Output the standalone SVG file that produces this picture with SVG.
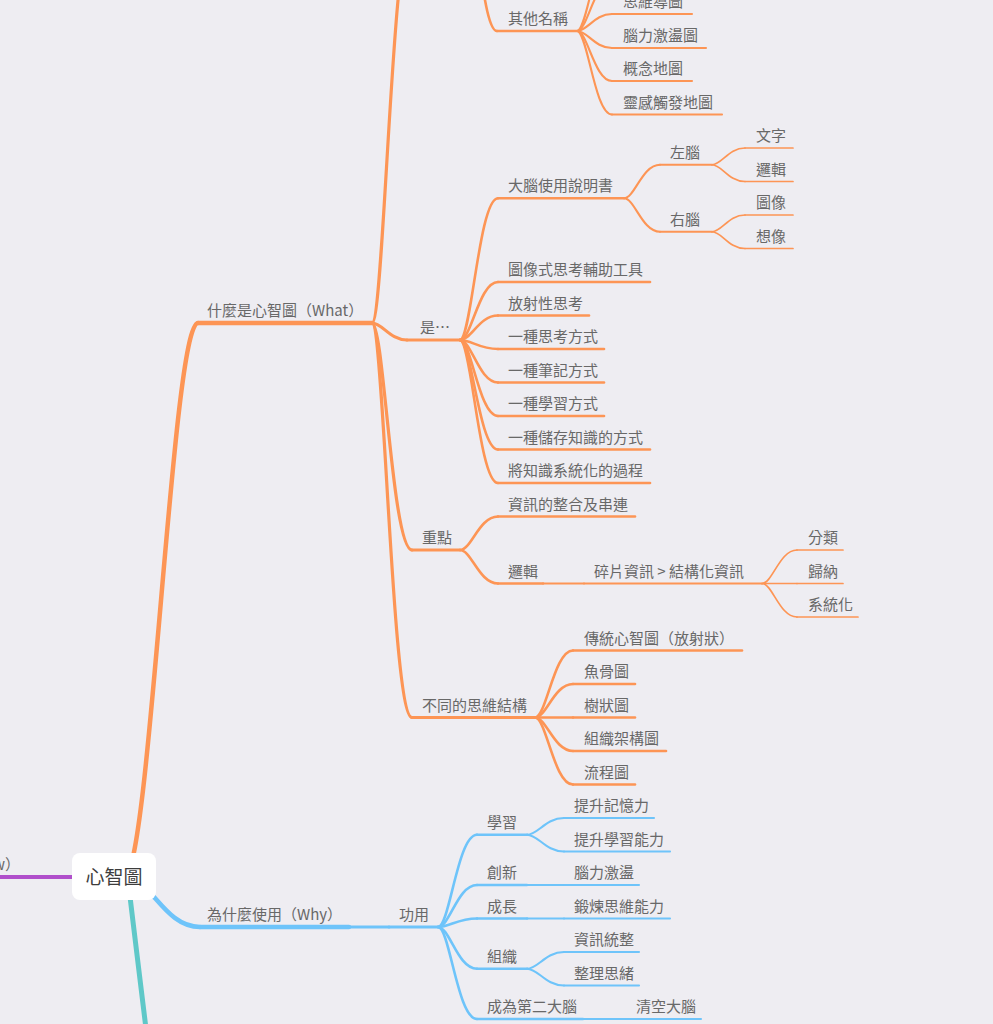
<svg xmlns="http://www.w3.org/2000/svg" width="993" height="1024" viewBox="0 0 993 1024">
<style>
.t{font-family:"Noto Sans CJK TC","Noto Sans",sans-serif;font-size:15px;fill:#686868}
.r{font-family:"Noto Sans CJK TC","Noto Sans",sans-serif;font-size:19px;fill:#3d3d3d}
.c{fill:none;stroke-linecap:round}
.o{stroke:#FD9555}
.b{stroke:#6EC4FA}
.w1{stroke-width:4.5}
.w2{stroke-width:3.2}
.w3{stroke-width:2.6}
.w4{stroke-width:2.1}
.w5{stroke-width:1.7}
</style>
<rect x="0" y="0" width="993" height="1024" fill="#EEEDF2"/>
<g id="connectors">
<path class="c" stroke="#5FC8C8" stroke-width="5" d="M128,880 Q192.8,1420 200,1420"/>
<path class="c" stroke="#B04FCB" stroke-width="4" d="M100,877 L-5,877"/>
<path class="c o w1" d="M124,878 C150,878 172,323 198,323"/>
<path class="c b w1" d="M130,880 C151,880 165,927 200,927"/>
<path class="c o w2" d="M372,323 C384,323 392,-71.5 412,-71.5"/>
<path class="c o w2" d="M372,323 C382.5,323 389.5,340 407,340"/>
<path class="c o w2" d="M372,323 C384,323 392,550 412,550"/>
<path class="c o w2" d="M372,323 C384,323 392,717.5 412,717.5"/>
<path class="c o w3" d="M470,-71.5 C478.1,-71.5 483.5,31 497,31"/>
<path class="c o w4" d="M577,31 C587.5,31 594.5,-53 612,-53"/>
<path class="c o w4" d="M577,31 C587.5,31 594.5,-19.5 612,-19.5"/>
<path class="c o w4" d="M577,31 C587.5,31 594.5,14 612,14"/>
<path class="c o w4" d="M577,31 C587.5,31 594.5,48 612,48"/>
<path class="c o w4" d="M577,31 C587.5,31 594.5,81 612,81"/>
<path class="c o w4" d="M577,31 C587.5,31 594.5,114.5 612,114.5"/>
<path class="c o w3" d="M460,340 C471.4,340 479,198.25 498,198.25"/>
<path class="c o w3" d="M460,340 C471.4,340 479,282 498,282"/>
<path class="c o w3" d="M460,340 C471.4,340 479,315.5 498,315.5"/>
<path class="c o w3" d="M460,340 C471.4,340 479,349 498,349"/>
<path class="c o w3" d="M460,340 C471.4,340 479,382.5 498,382.5"/>
<path class="c o w3" d="M460,340 C471.4,340 479,416 498,416"/>
<path class="c o w3" d="M460,340 C471.4,340 479,449.5 498,449.5"/>
<path class="c o w3" d="M460,340 C471.4,340 479,483 498,483"/>
<path class="c o w4" d="M624,198.25 C634.8,198.25 642,164.75 660,164.75"/>
<path class="c o w4" d="M624,198.25 C634.8,198.25 642,231.75 660,231.75"/>
<path class="c o w5" d="M712,164.75 C721.9,164.75 728.5,148 745,148"/>
<path class="c o w5" d="M712,164.75 C721.9,164.75 728.5,181.5 745,181.5"/>
<path class="c o w5" d="M712,231.75 C721.9,231.75 728.5,215 745,215"/>
<path class="c o w5" d="M712,231.75 C721.9,231.75 728.5,248.5 745,248.5"/>
<path class="c o w3" d="M460,550 C471.4,550 479,516.5 498,516.5"/>
<path class="c o w3" d="M460,550 C471.4,550 479,583.5 498,583.5"/>
<path class="c o w4" d="M543,583.5 L584,583.5"/>
<path class="c o w5" d="M762,583.5 C772.5,583.5 779.5,550 797,550"/>
<path class="c o w5" d="M762,583.5 L797,583.5"/>
<path class="c o w5" d="M762,583.5 C772.5,583.5 779.5,617 797,617"/>
<path class="c o w3" d="M535,717.5 C546.4,717.5 554,650.5 573,650.5"/>
<path class="c o w3" d="M535,717.5 C546.4,717.5 554,684 573,684"/>
<path class="c o w3" d="M535,717.5 L573,717.5"/>
<path class="c o w3" d="M535,717.5 C546.4,717.5 554,751 573,751"/>
<path class="c o w3" d="M535,717.5 C546.4,717.5 554,784.5 573,784.5"/>
<path class="c b w2" d="M349,927 L389,927"/>
<path class="c b w3" d="M438,927 C449.7,927 457.5,834.75 477,834.75"/>
<path class="c b w3" d="M438,927 C449.7,927 457.5,885 477,885"/>
<path class="c b w3" d="M438,927 C449.7,927 457.5,918.5 477,918.5"/>
<path class="c b w3" d="M438,927 C449.7,927 457.5,968.75 477,968.75"/>
<path class="c b w3" d="M438,927 C449.7,927 457.5,1019 477,1019"/>
<path class="c b w4" d="M527,834.75 C538.1,834.75 545.5,818 564,818"/>
<path class="c b w4" d="M527,834.75 C538.1,834.75 545.5,851.5 564,851.5"/>
<path class="c b w4" d="M527,885 L564,885"/>
<path class="c b w4" d="M527,918.5 L564,918.5"/>
<path class="c b w4" d="M527,968.75 C538.1,968.75 545.5,952 564,952"/>
<path class="c b w4" d="M527,968.75 C538.1,968.75 545.5,985.5 564,985.5"/>
<path class="c b w4" d="M583,1019 L626,1019"/>
</g>

<g id="n-how"><text class="t" x="-7" y="870">w）</text></g>

<g id="n-what"><path class="c o w1" d="M198,323 L372,323"/><text class="t" x="207" y="316">什麼是心智圖（What）</text></g>
<g id="n-other"><path class="c o w3" d="M497,31 L577,31"/><text class="t" x="508" y="24">其他名稱</text></g>
<g id="n-o1"><path class="c o w4" d="M612,14 L692,14"/><text class="t" x="623" y="7">思維導圖</text></g>
<g id="n-o2"><path class="c o w4" d="M612,48 L706,48"/><text class="t" x="623" y="41">腦力激盪圖</text></g>
<g id="n-o3"><path class="c o w4" d="M612,81 L692,81"/><text class="t" x="623" y="74">概念地圖</text></g>
<g id="n-o4"><path class="c o w4" d="M612,114.5 L722,114.5"/><text class="t" x="623" y="107.5">靈感觸發地圖</text></g>

<g id="n-is"><path class="c o w2" d="M407,340 L460,340"/><text class="t" x="420" y="333">是…</text></g>
<g id="n-brain"><path class="c o w3" d="M498,198.25 L624,198.25"/><text class="t" x="508" y="191.25">大腦使用說明書</text></g>
<g id="n-left"><path class="c o w4" d="M660,164.75 L712,164.75"/><text class="t" x="670" y="157.75">左腦</text></g>
<g id="n-right"><path class="c o w4" d="M660,231.75 L712,231.75"/><text class="t" x="670" y="224.75">右腦</text></g>
<g id="n-l1"><path class="c o w5" d="M745,148 L793,148"/><text class="t" x="756" y="141">文字</text></g>
<g id="n-l2"><path class="c o w5" d="M745,181.5 L793,181.5"/><text class="t" x="756" y="174.5">邏輯</text></g>
<g id="n-r1"><path class="c o w5" d="M745,215 L793,215"/><text class="t" x="756" y="208">圖像</text></g>
<g id="n-r2"><path class="c o w5" d="M745,248.5 L793,248.5"/><text class="t" x="756" y="241.5">想像</text></g>
<g id="n-i2"><path class="c o w3" d="M498,282 L650,282"/><text class="t" x="508" y="275">圖像式思考輔助工具</text></g>
<g id="n-i3"><path class="c o w3" d="M498,315.5 L589,315.5"/><text class="t" x="508" y="308.5">放射性思考</text></g>
<g id="n-i4"><path class="c o w3" d="M498,349 L604,349"/><text class="t" x="508" y="342">一種思考方式</text></g>
<g id="n-i5"><path class="c o w3" d="M498,382.5 L604,382.5"/><text class="t" x="508" y="375.5">一種筆記方式</text></g>
<g id="n-i6"><path class="c o w3" d="M498,416 L604,416"/><text class="t" x="508" y="409">一種學習方式</text></g>
<g id="n-i7"><path class="c o w3" d="M498,449.5 L650,449.5"/><text class="t" x="508" y="442.5">一種儲存知識的方式</text></g>
<g id="n-i8"><path class="c o w3" d="M498,483 L650,483"/><text class="t" x="508" y="476">將知識系統化的過程</text></g>

<g id="n-key"><path class="c o w2" d="M412,550 L460,550"/><text class="t" x="422" y="543">重點</text></g>
<g id="n-k1"><path class="c o w3" d="M498,516.5 L635,516.5"/><text class="t" x="508" y="509.5">資訊的整合及串連</text></g>
<g id="n-k2"><path class="c o w3" d="M498,583.5 L543,583.5"/><text class="t" x="508" y="576.5">邏輯</text></g>
<g id="n-k2a"><path class="c o w4" d="M584,583.5 L762,583.5"/><text class="t" x="594" y="576.5" xml:space="preserve">碎片資訊 &gt; 結構化資訊</text></g>
<g id="n-k2a1"><path class="c o w5" d="M797,550 L843,550"/><text class="t" x="808" y="543">分類</text></g>
<g id="n-k2a2"><path class="c o w5" d="M797,583.5 L843,583.5"/><text class="t" x="808" y="576.5">歸納</text></g>
<g id="n-k2a3"><path class="c o w5" d="M797,617 L858,617"/><text class="t" x="808" y="610">系統化</text></g>

<g id="n-struct"><path class="c o w2" d="M412,717.5 L535,717.5"/><text class="t" x="422" y="710.5">不同的思維結構</text></g>
<g id="n-s1"><path class="c o w3" d="M573,650.5 L742,650.5"/><text class="t" x="584" y="643.5">傳統心智圖（放射狀）</text></g>
<g id="n-s2"><path class="c o w3" d="M573,684 L635,684"/><text class="t" x="584" y="677">魚骨圖</text></g>
<g id="n-s3"><path class="c o w3" d="M573,717.5 L635,717.5"/><text class="t" x="584" y="710.5">樹狀圖</text></g>
<g id="n-s4"><path class="c o w3" d="M573,751 L666,751"/><text class="t" x="584" y="744">組織架構圖</text></g>
<g id="n-s5"><path class="c o w3" d="M573,784.5 L635,784.5"/><text class="t" x="584" y="777.5">流程圖</text></g>

<g id="n-why"><path class="c b w1" d="M200,927 L349,927"/><text class="t" x="207" y="920">為什麼使用（Why）</text></g>
<g id="n-use"><path class="c b w2" d="M389,927 L438,927"/><text class="t" x="399" y="920">功用</text></g>
<g id="n-u1"><path class="c b w3" d="M477,834.75 L527,834.75"/><text class="t" x="487" y="827.75">學習</text></g>
<g id="n-u1a"><path class="c b w4" d="M564,818 L654,818"/><text class="t" x="574" y="811">提升記憶力</text></g>
<g id="n-u1b"><path class="c b w4" d="M564,851.5 L670,851.5"/><text class="t" x="574" y="844.5">提升學習能力</text></g>
<g id="n-u2"><path class="c b w3" d="M477,885 L527,885"/><text class="t" x="487" y="878">創新</text></g>
<g id="n-u2a"><path class="c b w4" d="M564,885 L639,885"/><text class="t" x="574" y="878">腦力激盪</text></g>
<g id="n-u3"><path class="c b w3" d="M477,918.5 L527,918.5"/><text class="t" x="487" y="911.5">成長</text></g>
<g id="n-u3a"><path class="c b w4" d="M564,918.5 L670,918.5"/><text class="t" x="574" y="911.5">鍛煉思維能力</text></g>
<g id="n-u4"><path class="c b w3" d="M477,968.75 L527,968.75"/><text class="t" x="487" y="961.75">組織</text></g>
<g id="n-u4a"><path class="c b w4" d="M564,952 L639,952"/><text class="t" x="574" y="945">資訊統整</text></g>
<g id="n-u4b"><path class="c b w4" d="M564,985.5 L639,985.5"/><text class="t" x="574" y="978.5">整理思緒</text></g>
<g id="n-u5"><path class="c b w3" d="M477,1019 L583,1019"/><text class="t" x="487" y="1012">成為第二大腦</text></g>
<g id="n-u5a"><path class="c b w4" d="M626,1019 L701,1019"/><text class="t" x="636" y="1012">清空大腦</text></g>

<g id="n-root"><rect x="72" y="853" width="84" height="47" rx="8" fill="#FFFFFF"/><text class="r" x="114" y="883.5" text-anchor="middle">心智圖</text></g>
</svg>
